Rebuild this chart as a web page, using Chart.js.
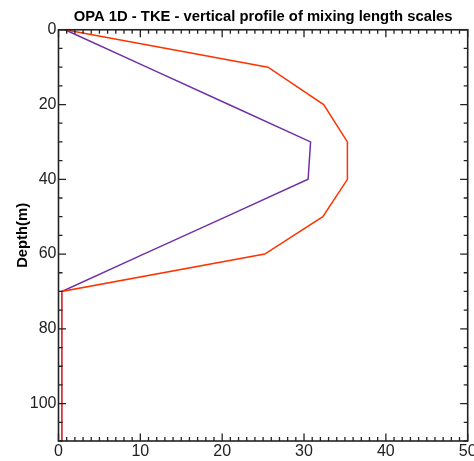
<!DOCTYPE html>
<html>
<head>
<meta charset="utf-8">
<script src="https://cdn.jsdelivr.net/npm/chart.js@4/dist/chart.umd.min.js"></script>
<style>
  html, body { margin: 0; padding: 0; background: #fff; }
  #wrap { width: 474px; height: 461px; }
</style>
</head>
<body>
<div id="wrap"><canvas id="chart" width="474" height="461"></canvas></div>
<script>
// depth levels (m) and mixing length values
const depths = [0, 10, 20, 30, 40, 50, 60, 70, 80, 90, 100, 110];
const redLength = [0.8, 25.6, 32.4, 35.3, 35.3, 32.3, 25.2, 0.4, 0.4, 0.4, 0.4, 0.4];
const purpleLength = [0.8, 10.8, 20.8, 30.8, 30.5, 20.5, 10.4, 0.4, 0.4, 0.4, 0.4, 0.4];

const xTickLabels = [0, 10, 20, 30, 40, 50];
const yTickLabels = [0, 20, 40, 60, 80, 100];
const xMinorStep = 1;
const yMinorStep = 5;

const toPoints = (vals) => vals.map((v, i) => ({ x: v, y: depths[i] }));

// frame with inward ticks on all four sides, like the original plot
const frameTicks = {
  id: 'frameTicks',
  afterDraw(chart) {
    const { ctx, chartArea: a, scales: { x, y } } = chart;
    ctx.save();
    ctx.strokeStyle = '#222';
    ctx.lineWidth = 1.3;
    ctx.beginPath();
    for (let v = x.min; v <= x.max + 1e-9; v += xMinorStep) {
      const px = x.getPixelForValue(v);
      const len = xTickLabels.includes(v) ? 7.5 : 4;
      ctx.moveTo(px, a.bottom); ctx.lineTo(px, a.bottom - len);
      ctx.moveTo(px, a.top); ctx.lineTo(px, a.top + len);
    }
    for (let v = y.min; v <= y.max + 1e-9; v += yMinorStep) {
      const py = y.getPixelForValue(v);
      const len = yTickLabels.includes(v) ? 7.5 : 4;
      ctx.moveTo(a.left, py); ctx.lineTo(a.left + len, py);
      ctx.moveTo(a.right, py); ctx.lineTo(a.right - len, py);
    }
    ctx.stroke();
    ctx.lineWidth = 1.6;
    ctx.strokeRect(a.left, a.top, a.right - a.left, a.bottom - a.top);
    ctx.restore();
  }
};

new Chart(document.getElementById('chart'), {
  type: 'line',
  data: {
    datasets: [
      {
        label: 'red',
        data: toPoints(redLength),
        borderColor: '#ff3300',
        borderWidth: 1.5,
        pointRadius: 0,
        tension: 0
      },
      {
        label: 'purple',
        data: toPoints(purpleLength),
        borderColor: '#7030a8',
        borderWidth: 1.5,
        pointRadius: 0,
        tension: 0
      }
    ]
  },
  options: {
    responsive: false,
    animation: false,
    layout: { padding: { left: 0, right: 6.3, top: 0, bottom: 0 } },
    plugins: {
      legend: { display: false },
      tooltip: { enabled: false },
      title: {
        display: true,
        fullSize: false,
        text: 'OPA 1D - TKE - vertical profile of mixing length scales',
        color: '#000',
        font: { family: '"Liberation Sans", Arial, sans-serif', size: 14.8, weight: 'bold' },
        padding: { top: 8.5, bottom: 3.5 }
      }
    },
    scales: {
      x: {
        type: 'linear',
        min: 0,
        max: 50,
        afterBuildTicks: (s) => { s.ticks = xTickLabels.map(v => ({ value: v })); },
        afterFit: (s) => { s.height = 20; s.paddingLeft = 0; s.paddingRight = 0; },
        grid: { display: false, drawTicks: false },
        border: { display: false },
        ticks: {
          padding: 1,
          maxRotation: 0,
          color: '#222',
          font: { family: '"Liberation Sans Narrow", "Liberation Sans", sans-serif', size: 16 }
        }
      },
      y: {
        type: 'linear',
        reverse: true,
        min: 0,
        max: 110,
        afterBuildTicks: (s) => { s.ticks = yTickLabels.map(v => ({ value: v })); },
        afterFit: (s) => { s.width = 58.5; s.paddingTop = 0; s.paddingBottom = 0; },
        grid: { display: false, drawTicks: false },
        border: { display: false },
        ticks: {
          padding: 2,
          color: '#222',
          font: { family: '"Liberation Sans Narrow", "Liberation Sans", sans-serif', size: 16 }
        },
        title: {
          display: true,
          text: 'Depth(m)',
          color: '#000',
          font: { family: '"Liberation Sans", Arial, sans-serif', size: 14.8, weight: 'bold' },
          padding: { top: 14.5, bottom: 0 }
        }
      }
    }
  },
  plugins: [frameTicks]
});
</script>
</body>
</html>
